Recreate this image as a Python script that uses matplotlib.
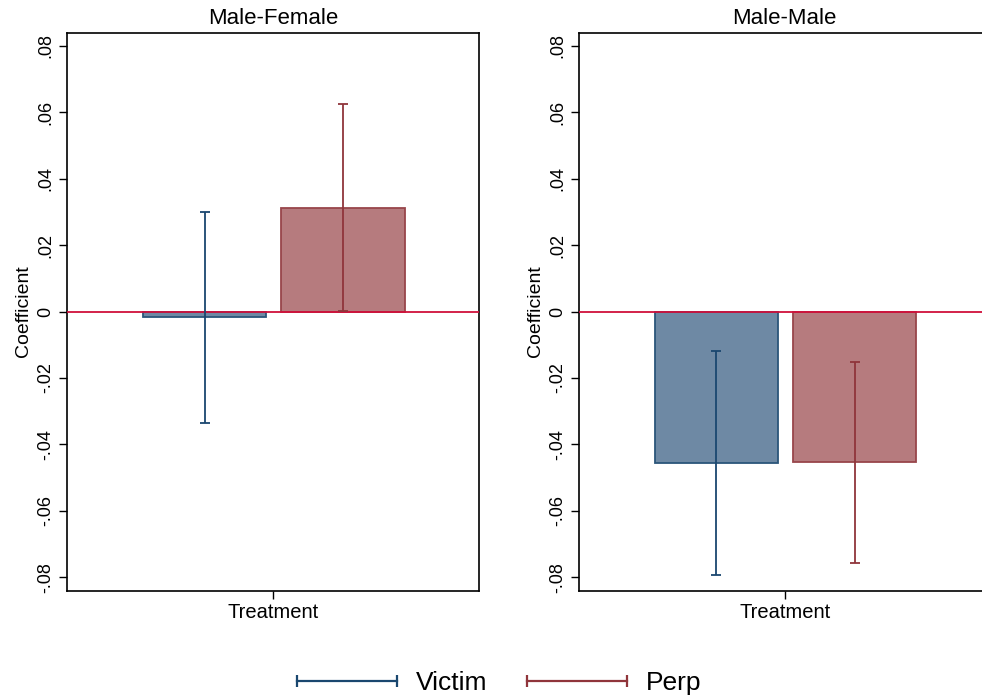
import matplotlib
matplotlib.use("Agg")
import matplotlib.pyplot as plt
from matplotlib.lines import Line2D
import numpy as np

plt.rcParams['font.family'] = ['Liberation Sans', 'DejaVu Sans']

panels = ["Male-Female", "Male-Male"]
series = ["Victim", "Perp"]
coef = {"Male-Female": [-0.0017, 0.0313], "Male-Male": [-0.0455, -0.0453]}
ci_low = {"Male-Female": [-0.0335, 0.0003], "Male-Male": [-0.0793, -0.0757]}
ci_high = {"Male-Female": [0.0299, 0.0625], "Male-Male": [-0.0119, -0.0152]}
yticks = [-0.08, -0.06, -0.04, -0.02, 0, 0.02, 0.04, 0.06, 0.08]
ytick_labels = ["-.08", "-.06", "-.04", "-.02", "0", ".02", ".04", ".06", ".08"]
xlabel = "Treatment"

fill_colors = ["#6e89a4", "#b67b7e"]
edge_colors = ["#2b5579", "#98454b"]
err_colors = ["#1a476f", "#90353b"]
zero_color = "#d0103a"

fig = plt.figure(figsize=(9.82, 7.0), dpi=100)
positions = [[0.0682, 0.1563, 0.4196, 0.7971], [0.5893, 0.1563, 0.4196, 0.7971]]
bar_x = [0.334, 0.670]
bar_w = 0.299

for k, (p, pos) in enumerate(zip(panels, positions)):
    ax = fig.add_axes(pos)
    for i in range(2):
        ax.bar(bar_x[i], coef[p][i], width=bar_w, color=fill_colors[i],
               edgecolor=edge_colors[i], linewidth=1.3, zorder=2)
    ax.axhline(0, color=zero_color, linewidth=1.3, zorder=3)
    for i in range(2):
        lo, hi = ci_low[p][i], ci_high[p][i]
        mid = (lo + hi) / 2
        ax.errorbar(bar_x[i], mid, yerr=[[mid - lo], [hi - mid]], fmt='none',
                    ecolor=err_colors[i], elinewidth=1.3, capsize=3.3,
                    capthick=1.3, zorder=4)
    ax.set_xlim(0, 1)
    ax.set_ylim(-0.084, 0.084)
    ax.set_yticks(yticks)
    ax.set_yticklabels(ytick_labels, rotation=90, va='center', fontsize=13)
    ax.set_xticks([0.5])
    ax.set_xticklabels([xlabel], fontsize=14.5)
    ax.tick_params(axis='y', length=6, width=1, pad=3)
    ax.tick_params(axis='x', length=6, width=1, pad=3)
    ax.set_ylabel("Coefficient", fontsize=14, labelpad=4)
    ax.set_title(p, fontsize=16, pad=6)
    for s in ax.spines.values():
        s.set_linewidth(1.2)
        s.set_color("black")
    if k == 1:
        ax.spines['right'].set_visible(False)

handles = [Line2D([0, 1], [0, 0], color=err_colors[i], linewidth=1.6,
                  marker='|', markersize=8, markeredgewidth=1.6)
           for i in range(2)]
fig.legend(handles, series, loc='center', bbox_to_anchor=(0.504, 1 - 683 / 700),
           ncol=2, frameon=False, fontsize=19, numpoints=2, handlelength=4.4,
           handletextpad=0.4, columnspacing=1.2)

fig.savefig("out.png", dpi=100)
